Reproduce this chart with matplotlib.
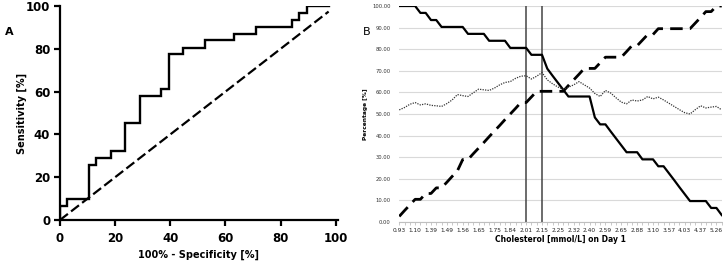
import matplotlib
matplotlib.use("Agg")
import matplotlib.pyplot as plt
import numpy as np

# ---------------- Panel A data (ROC curve) ----------------
roc_fpr = [0, 0, 2.6, 2.6, 10.5, 10.5, 13.2, 13.2, 18.4, 18.4, 23.7, 23.7, 28.9, 28.9,
           36.8, 36.8, 39.5, 39.5, 44.7, 44.7, 52.6, 52.6, 63.2, 63.2, 71.1, 71.1,
           84.2, 84.2, 86.8, 86.8, 89.5, 89.5, 97.4]
roc_tpr = [0, 6.5, 6.5, 9.7, 9.7, 25.8, 25.8, 29.0, 29.0, 32.3, 32.3, 45.2, 45.2, 58.1,
           58.1, 61.3, 61.3, 77.4, 77.4, 80.6, 80.6, 83.9, 83.9, 87.1, 87.1, 90.3,
           90.3, 93.5, 93.5, 96.8, 96.8, 100, 100]
ref_line = [0, 97.4]

# ---------------- Panel B data ----------------
chol_labels = ["0.93", "1.10", "1.39", "1.49", "1.56", "1.65", "1.75", "1.84", "2.01",
               "2.15", "2.25", "2.32", "2.40", "2.59", "2.65", "2.88", "3.10", "3.57",
               "4.03", "4.37", "5.26"]
sensitivity = [100, 100, 100, 100, 96.8, 96.8, 93.5, 93.5, 90.3, 90.3, 90.3, 90.3, 90.3,
               87.1, 87.1, 87.1, 87.1, 83.9, 83.9, 83.9, 83.9, 80.6, 80.6, 80.6, 80.6,
               77.4, 77.4, 77.4, 71.0, 67.7, 64.5, 61.3, 58.1, 58.1, 58.1, 58.1, 58.1,
               48.4, 45.2, 45.2, 41.9, 38.7, 35.5, 32.3, 32.3, 32.3, 29.0, 29.0, 29.0,
               25.8, 25.8, 22.6, 19.4, 16.1, 12.9, 9.7, 9.7, 9.7, 9.7, 6.5, 6.5, 3.2]
specificity = [2.6, 5.3, 7.9, 10.5, 10.5, 13.2, 13.2, 15.8, 15.8, 18.4, 21.1, 23.7, 28.9,
               28.9, 31.6, 34.2, 36.8, 39.5, 42.1, 44.7, 47.4, 50.0, 52.6, 55.3, 55.3,
               57.9, 60.5, 60.5, 60.5, 60.5, 60.5, 60.5, 63.2, 65.8, 68.4, 71.1, 71.1,
               71.1, 73.7, 76.3, 76.3, 76.3, 76.3, 78.9, 81.6, 81.6, 84.2, 86.8, 86.8,
               89.5, 89.5, 89.5, 89.5, 89.5, 89.5, 89.5, 92.1, 94.7, 97.4, 97.4, 100, 100]
accuracy = [51.9, 53.0, 54.5, 55.3, 54.2, 54.7, 54.0, 53.8, 53.5, 54.8, 56.5, 59.0, 58.5,
            58.1, 59.8, 61.5, 61.2, 60.9, 62.0, 63.5, 64.6, 65.0, 66.5, 67.5, 67.7,
            66.2, 67.5, 69.2, 65.8, 64.0, 62.5, 61.5, 62.4, 63.5, 65.0, 63.5, 62.0,
            59.5, 58.1, 60.9, 59.7, 57.5, 55.5, 54.7, 56.5, 56.0, 56.5, 58.1, 57.0,
            57.8, 56.5, 55.0, 53.5, 52.0, 50.6, 50.0, 52.0, 53.8, 52.8, 53.2, 53.5, 51.9]
cutoff_labels = ["2.01", "2.15"]
label_step = 3

fig = plt.figure(figsize=(7.23, 2.66), dpi=100)

# ---------------- Panel A ----------------
axA = fig.add_axes([60 / 723, 1 - 220 / 266, 278 / 723, 214 / 266])
axA.plot(roc_fpr, roc_tpr, color="black", lw=1.7, solid_joinstyle="miter")
axA.plot(ref_line, ref_line, color="black", lw=1.6, ls=(0, (4.5, 1.8)))
axA.set_xlim(0, 100.8)
axA.set_ylim(0, 100)
axA.set_xticks([0, 20, 40, 60, 80, 100])
axA.set_yticks([0, 20, 40, 60, 80, 100])
for s in ["top", "right"]:
    axA.spines[s].set_visible(False)
for s in ["left", "bottom"]:
    axA.spines[s].set_linewidth(1.6)
axA.spines["left"].set_bounds(0, 100)
axA.tick_params(direction="out", length=4, width=1.6)
axA.tick_params(axis="x", pad=5)
axA.tick_params(axis="y", pad=3)
for lab in axA.get_xticklabels() + axA.get_yticklabels():
    lab.set_fontweight("bold")
    lab.set_fontsize(8.5)
    lab.set_family("DejaVu Sans")
axA.set_xlabel("100% - Specificity [%]", fontsize=7, fontweight="bold", labelpad=3)
axA.set_ylabel("Sensitivity [%]", fontsize=7, fontweight="bold", labelpad=-1)
fig.text(5 / 723, 1 - 32 / 266, "A", fontsize=8, fontweight="bold", va="center", ha="left")

# ---------------- Panel B ----------------
n = len(sensitivity)
x = np.arange(n)
axB = fig.add_axes([399 / 723, 1 - 222 / 266, 323 / 723, 216 / 266])
axB.set_xlim(-0.05, n - 1 + 0.05)
axB.set_ylim(0, 100)
axB.set_yticks(np.arange(0, 101, 10))
axB.set_yticklabels([f"{v:.2f}" for v in np.arange(0, 101, 10)])
axB.grid(axis="y", color="#d9d9d9", lw=0.8)
axB.set_axisbelow(True)
for s in ["top", "right", "left"]:
    axB.spines[s].set_visible(False)
axB.spines["bottom"].set_color("#bfbfbf")
axB.spines["bottom"].set_linewidth(0.8)
axB.set_xticks(x, minor=True)
axB.set_xticks(x[::label_step])
axB.set_xticklabels(chol_labels)
axB.tick_params(axis="x", which="both", length=2, width=0.6, color="#bfbfbf",
                labelsize=4.2, pad=2, labelcolor="#222222")
axB.tick_params(axis="y", length=0, labelsize=3.8, pad=6, labelcolor="#333333")

for c in cutoff_labels:
    axB.axvline(chol_labels.index(c) * label_step, color="#444444", lw=1.1)

axB.plot(x, sensitivity, color="black", lw=1.6)
axB.plot(x, specificity, color="black", lw=2.0, ls=(0, (4.5, 2.6)))
axB.plot(x, accuracy, color="#333333", lw=0.9, ls=(0, (1.0, 1.0)))

axB.set_xlabel("Cholesterol [mmol/L] on Day 1", fontsize=5.5, fontweight="bold", labelpad=2)
axB.set_ylabel("Percentage [%]", fontsize=4.2, fontweight="bold", labelpad=3)
fig.text(367 / 723, 1 - 32 / 266, "B", fontsize=8, va="center", ha="center")

fig.savefig("out.png", dpi=100)
